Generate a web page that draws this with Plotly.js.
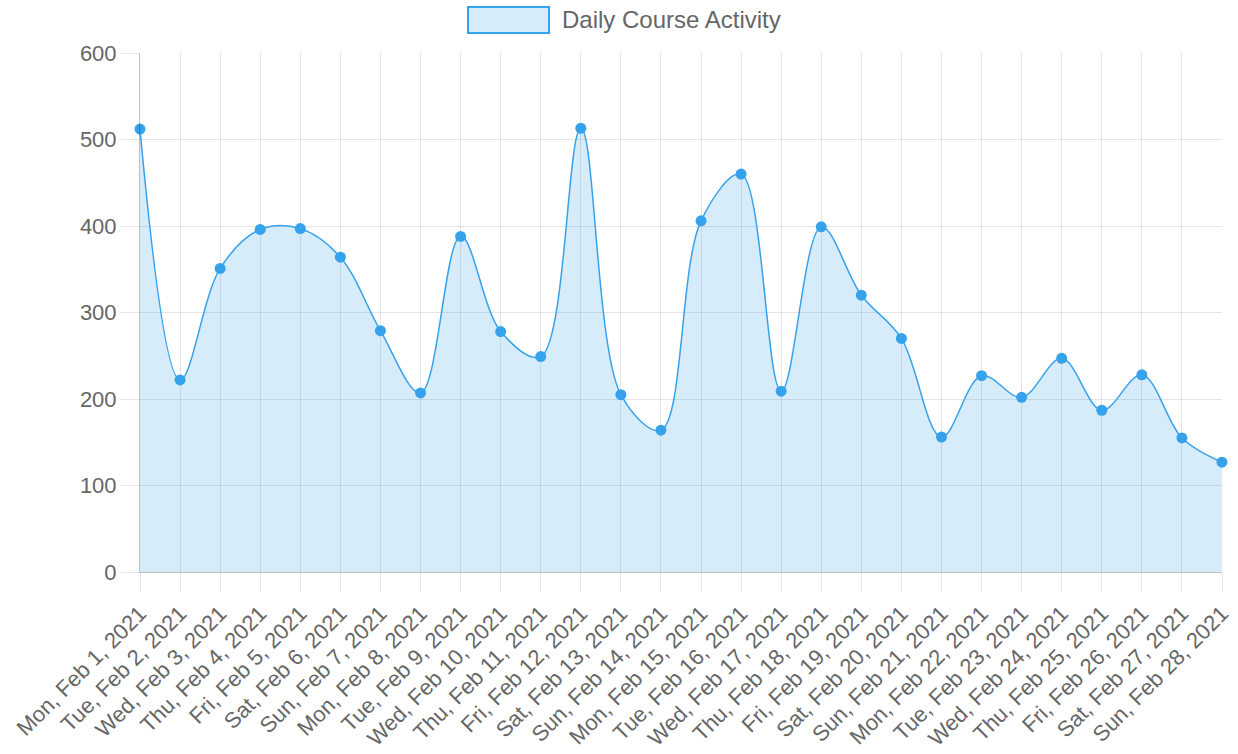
<!DOCTYPE html>
<html>
<head>
<meta charset="utf-8">
<script src="https://cdn.plot.ly/plotly-3.0.1.min.js"></script>
<style>html,body{margin:0;padding:0;background:#fff;}#chart{width:1238px;height:754px;}</style>
</head>
<body>
<div id="chart"></div>
<script>
const categories = ["Mon, Feb 1, 2021","Tue, Feb 2, 2021","Wed, Feb 3, 2021","Thu, Feb 4, 2021","Fri, Feb 5, 2021","Sat, Feb 6, 2021","Sun, Feb 7, 2021","Mon, Feb 8, 2021","Tue, Feb 9, 2021","Wed, Feb 10, 2021","Thu, Feb 11, 2021","Fri, Feb 12, 2021","Sat, Feb 13, 2021","Sun, Feb 14, 2021","Mon, Feb 15, 2021","Tue, Feb 16, 2021","Wed, Feb 17, 2021","Thu, Feb 18, 2021","Fri, Feb 19, 2021","Sat, Feb 20, 2021","Sun, Feb 21, 2021","Mon, Feb 22, 2021","Tue, Feb 23, 2021","Wed, Feb 24, 2021","Thu, Feb 25, 2021","Fri, Feb 26, 2021","Sat, Feb 27, 2021","Sun, Feb 28, 2021"];
const activity = [512,222,351,396,397,364,279,207,388,278,249,513,205,164,406,460,209,399,320,270,156,227,202,247,187,228,155,127];
const seriesName = "Daily Course Activity";
const yTicks = [0,100,200,300,400,500,600];

const blue = "rgb(54,162,235)";
const fillBlue = "rgba(54,162,235,0.2)";
const grid = "rgba(0,0,0,0.1)";
const fontFam = "'Liberation Sans', Arial, sans-serif";

const trace = {
  x: categories, y: activity, type: "scatter", mode: "lines+markers",
  name: seriesName, showlegend: false,
  line: {shape: "spline", smoothing: 1.0, color: blue, width: 1.5},
  marker: {size: 11, color: blue},
  fill: "tozeroy", fillcolor: fillBlue, cliponaxis: false
};

const layout = {
  width: 1238, height: 754,
  margin: {l: 140, r: 16, t: 53, b: 182},
  paper_bgcolor: "#fff", plot_bgcolor: "#fff",
  font: {family: fontFam, color: "#666", size: 22},
  showlegend: false,
  xaxis: {
    type: "category", range: [0, categories.length - 1],
    tickangle: -45, showgrid: true, gridcolor: grid, gridwidth: 1,
    ticks: "outside", ticklen: 19, tickcolor: grid, tickwidth: 1,
    showline: true, linecolor: "rgba(0,0,0,0.25)", linewidth: 1,
    tickfont: {size: 22, color: "#666"}, zeroline: false, fixedrange: true
  },
  yaxis: {
    range: [0, 600], tickvals: yTicks, ticktext: yTicks.map(String),
    showgrid: true, gridcolor: grid, gridwidth: 1,
    ticks: "outside", ticklen: 18, tickcolor: grid, tickwidth: 1,
    showline: true, linecolor: "rgba(0,0,0,0.25)", linewidth: 1,
    zeroline: false, tickfont: {size: 22, color: "#666"}, fixedrange: true
  },
  shapes: [{
    type: "rect", xref: "paper", yref: "paper",
    x0: (468 - 140) / 1082, x1: (549 - 140) / 1082,
    y0: (572 - 33) / 519, y1: (572 - 7) / 519,
    fillcolor: fillBlue, line: {color: blue, width: 2}
  }],
  annotations: [{
    xref: "paper", yref: "paper",
    x: (560 - 140) / 1082, y: (572 - 19) / 519,
    xanchor: "left", yanchor: "middle", showarrow: false,
    text: seriesName, font: {size: 24, color: "#666", family: fontFam}
  }]
};

Plotly.newPlot("chart", [trace], layout, {displayModeBar: false, staticPlot: true});
</script>
</body>
</html>
